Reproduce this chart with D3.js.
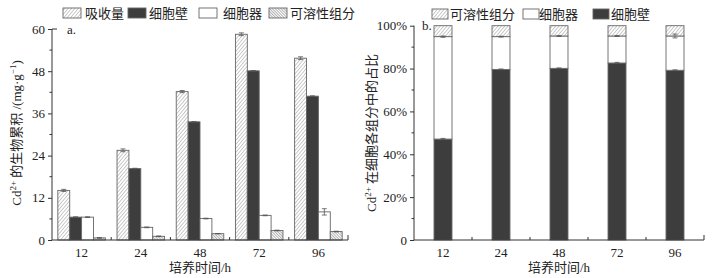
<!DOCTYPE html>
<html><head><meta charset="utf-8">
<script src="https://cdn.jsdelivr.net/npm/d3@7/dist/d3.min.js"></script>
<style>body{margin:0;background:#fff}svg{display:block}</style>
</head><body><svg id="c" width="724" height="278"></svg>
<script>
const categories = ["12","24","48","72","96"];
// Panel a: accumulation (mg/g)
const seriesA = ["吸收量","细胞壁","细胞器","可溶性组分"];
const uptake    = [14.1, 25.5, 42.2, 58.5, 51.7];
const wallA     = [6.5, 20.3, 33.6, 48.1, 40.9];
const organA    = [6.5, 3.6, 6.1, 7.0, 8.0];
const solubleA  = [0.6, 1.05, 1.8, 2.7, 2.4];
const uptakeErr = [0.3, 0.4, 0.3, 0.4, 0.4];
const wallErr   = [0.1, 0.1, 0.1, 0.1, 0.1];
const organErr  = [0.1, 0.1, 0.1, 0.1, 0.9];
const solubleErr= [0.1, 0.1, 0.05, 0.1, 0.1];
const yTicksA = [0, 12, 24, 36, 48, 60];
// Panel b: proportion (%)
const seriesB = ["可溶性组分","细胞器","细胞壁"];
const wallPct   = [47.1, 79.6, 80.1, 82.6, 79.2];
const organPct  = [47.8, 15.3, 15.1, 12.6, 16.0];
const solublePct= [5.1, 5.1, 4.8, 4.8, 4.8];
const wallPctErr  = [0.3, 0.2, 0.2, 0.3, 0.2];
const organPctErr = [0.3, 0.2, 0.2, 0.2, 0.9];
const yTicksB = [0, 20, 40, 60, 80, 100];

const svg = d3.select("#c");
const serif = "'Liberation Serif','DejaVu Serif',serif";
const cjk = "'Liberation Serif','Noto Sans CJK SC',serif";
const axisCol = "#333";

const defs = svg.append("defs");
function hatch(id, spacing, dir, col, w){
  const p = defs.append("pattern").attr("id", id).attr("patternUnits","userSpaceOnUse")
    .attr("width", spacing).attr("height", spacing)
    .attr("patternTransform", `rotate(${dir})`);
  p.append("rect").attr("width", spacing).attr("height", spacing).attr("fill","#fff");
  p.append("line").attr("x1",0).attr("y1",0).attr("x2",0).attr("y2",spacing)
    .attr("stroke", col).attr("stroke-width", w);
}
hatch("h1", 2.6, 40, "#888", 0.9);
hatch("h2", 2, -45, "#666", 1);

const fillA = {"吸收量":"url(#h1)","细胞壁":"#3d3d3d","细胞器":"#fff","可溶性组分":"url(#h2)"};
const fillB = {"可溶性组分":"url(#h1)","细胞器":"#fff","细胞壁":"#3d3d3d"};

// ---------- Panel a ----------
const ax0 = 52, ax1 = 348, ay0 = 240, ay1 = 29;
const x0 = d3.scaleBand().domain(categories).range([ax0, ax1]);
const x1 = d3.scaleBand().domain(seriesA).range([0, x0.bandwidth()]).paddingOuter(0.49);
const yA = d3.scaleLinear().domain([0, 60]).range([ay0, ay1]);
const valsA = {"吸收量":uptake,"细胞壁":wallA,"细胞器":organA,"可溶性组分":solubleA};
const errA = {"吸收量":uptakeErr,"细胞壁":wallErr,"细胞器":organErr,"可溶性组分":solubleErr};

const gA = svg.append("g");
seriesA.forEach(s=>{
  categories.forEach((c,i)=>{
    const v = valsA[s][i];
    const x = x0(c)+x1(s);
    gA.append("rect").attr("x", x).attr("y", yA(v)).attr("width", x1.bandwidth())
      .attr("height", yA(0)-yA(v)).attr("fill", fillA[s]).attr("stroke","#666").attr("stroke-width",0.9);
    const e = errA[s][i], cx = x + x1.bandwidth()/2;
    gA.append("line").attr("x1",cx).attr("x2",cx).attr("y1",yA(v+e)).attr("y2",yA(v-e)).attr("stroke","#555").attr("stroke-width",0.8);
    [v+e, v-e].forEach(t=>gA.append("line").attr("x1",cx-2.5).attr("x2",cx+2.5).attr("y1",yA(t)).attr("y2",yA(t)).attr("stroke","#555").attr("stroke-width",0.8));
  });
});
// y axis
const yAxA = d3.axisLeft(yA).tickValues(yTicksA).tickSize(4).tickPadding(3);
const gyA = svg.append("g").attr("transform",`translate(${ax0},0)`).call(yAxA);
gyA.select(".domain").attr("d", `M0,${ay0}V${ay1}`);
svg.append("g").selectAll("line").data([6,18,30,42,54]).join("line")
  .attr("x1",ax0-2.5).attr("x2",ax0).attr("y1",d=>yA(d)).attr("y2",d=>yA(d)).attr("stroke",axisCol);
svg.append("line").attr("x1",ax0).attr("x2",ax0+5).attr("y1",ay1).attr("y2",ay1).attr("stroke",axisCol);
// x axis
const gxA = svg.append("g").attr("transform",`translate(0,${ay0})`)
  .call(d3.axisBottom(x0).tickSize(0).tickPadding(8));
gxA.select(".domain").attr("d", `M${ax0},0H${ax1}`);
svg.append("g").selectAll("line").data(d3.range(1,6)).join("line")
  .attr("x1",i=>ax0+i*x0.step()).attr("x2",i=>ax0+i*x0.step())
  .attr("y1",ay0).attr("y2",i=>i===5?ay0-5:ay0-3).attr("stroke",axisCol);

// ---------- Panel b ----------
const bx0 = 414, bx1 = 704, by0 = 240, by1 = 25.7;
const xb = d3.scaleBand().domain(categories).range([bx0, bx1]).paddingInner(0.69).paddingOuter(0.345);
const yB = d3.scaleLinear().domain([0, 100]).range([by0, by1]);
const stackData = categories.map((c,i)=>({cat:c,"细胞壁":wallPct[i],"细胞器":organPct[i],"可溶性组分":solublePct[i]}));
const stack = d3.stack().keys(["细胞壁","细胞器","可溶性组分"])(stackData);
const gB = svg.append("g");
stack.forEach(layer=>{
  layer.forEach(d=>{
    gB.append("rect").attr("x", xb(d.data.cat)).attr("y", yB(d[1])).attr("width", xb.bandwidth())
      .attr("height", yB(d[0])-yB(d[1])).attr("fill", fillB[layer.key]).attr("stroke","#666").attr("stroke-width",0.9);
  });
});
const ebB = [];
categories.forEach((c,i)=>{
  ebB.push({c, v:wallPct[i], e:wallPctErr[i]});
  ebB.push({c, v:wallPct[i]+organPct[i], e:organPctErr[i]});
});
ebB.forEach(d=>{
  const cx = xb(d.c)+xb.bandwidth()/2;
  gB.append("line").attr("x1",cx).attr("x2",cx).attr("y1",yB(d.v+d.e)).attr("y2",yB(d.v-d.e)).attr("stroke","#555").attr("stroke-width",0.8);
  [d.v+d.e,d.v-d.e].forEach(t=>gB.append("line").attr("x1",cx-2.5).attr("x2",cx+2.5).attr("y1",yB(t)).attr("y2",yB(t)).attr("stroke","#555").attr("stroke-width",0.8));
});
const yAxB = d3.axisLeft(yB).tickValues(yTicksB).tickSize(4).tickPadding(3).tickFormat(d=>d===0?"0":d+"%");
const gyB = svg.append("g").attr("transform",`translate(${bx0},0)`).call(yAxB);
gyB.select(".domain").attr("d", `M0,${by0}V${by1}`);
svg.append("g").selectAll("line").data([10,30,50,70,90]).join("line")
  .attr("x1",bx0-2.5).attr("x2",bx0).attr("y1",d=>yB(d)).attr("y2",d=>yB(d)).attr("stroke",axisCol);
const gxB = svg.append("g").attr("transform",`translate(0,${by0})`)
  .call(d3.axisBottom(xb).tickSize(0).tickPadding(8));
gxB.select(".domain").attr("d", `M${bx0},0H${bx1}`);
svg.append("g").selectAll("line").data(d3.range(1,6)).join("line")
  .attr("x1",i=>bx0+i*(bx1-bx0)/5).attr("x2",i=>bx0+i*(bx1-bx0)/5)
  .attr("y1",by0).attr("y2",i=>i===5?by0-5:by0-3).attr("stroke",axisCol);

svg.selectAll(".tick text").attr("font-family", serif).attr("font-size", 13).attr("fill","#222");
svg.selectAll(".domain, .tick line").attr("stroke", axisCol);

// titles
svg.append("text").attr("x",200).attr("y",272).attr("text-anchor","middle").attr("font-family",cjk).attr("font-size",13).attr("fill","#222").text("培养时间/h");
svg.append("text").attr("x",559).attr("y",272).attr("text-anchor","middle").attr("font-family",cjk).attr("font-size",13).attr("fill","#222").text("培养时间/h");
const tA = svg.append("text").attr("transform","translate(21,133) rotate(-90)").attr("text-anchor","middle").attr("font-family",cjk).attr("font-size",13).attr("fill","#222");
tA.append("tspan").text("Cd");
tA.append("tspan").attr("dy",-5).attr("font-size",9).text("2+");
tA.append("tspan").attr("dy",5).text(" 的生物累积 /(mg·g");
tA.append("tspan").attr("dy",-5).attr("font-size",9).text("−1");
tA.append("tspan").attr("dy",5).text(")");
const tB = svg.append("text").attr("transform","translate(376,133) rotate(-90)").attr("text-anchor","middle").attr("font-family",cjk).attr("font-size",13).attr("fill","#222");
tB.append("tspan").text("Cd");
tB.append("tspan").attr("dy",-5).attr("font-size",9).text("2+");
tB.append("tspan").attr("dy",5).text(" 在细胞各组分中的占比");
svg.append("text").attr("x",67).attr("y",34).attr("font-family",serif).attr("font-size",13).attr("fill","#222").text("a.");
svg.append("text").attr("x",422).attr("y",30).attr("font-family",serif).attr("font-size",13).attr("fill","#222").text("b.");

// legends
function legend(items, xs, tx, w, y){
  items.forEach((it,i)=>{
    svg.append("rect").attr("x",xs[i]).attr("y",y).attr("width",w).attr("height",10).attr("fill",it.fill).attr("stroke","#666").attr("stroke-width",0.9);
    svg.append("text").attr("x",tx[i]).attr("y",y+10).attr("font-family",cjk).attr("font-size",13).attr("fill","#222").text(it.name);
  });
}
legend(seriesA.map(s=>({name:s, fill:fillA[s]})), [63,128,199,269], [85,149,223,290], 18, 8);
legend(seriesB.map(s=>({name:s, fill:fillB[s]})), [432,523,593], [450,539,611], 16, 9);
</script></body></html>
